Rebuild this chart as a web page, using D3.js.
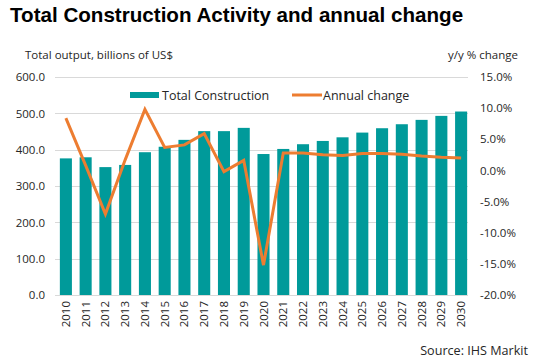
<!DOCTYPE html>
<html><head><meta charset="utf-8">
<script src="https://cdn.jsdelivr.net/npm/d3@7"></script>
<style>body{margin:0;background:#fff}svg{display:block}</style>
</head><body>
<svg id="c" width="538" height="364"></svg>
<script>
const years = ["2010","2011","2012","2013","2014","2015","2016","2017","2018","2019","2020","2021","2022","2023","2024","2025","2026","2027","2028","2029","2030"];
const totalConstruction = [376,379,352,358,393,408,427,451,451,460,388,402,415,424,434,447,459,470,482,493,505];
const annualChange = [8.4,0.8,-7.0,1.7,9.8,3.7,4.1,5.9,-0.2,1.6,-15.2,2.8,2.8,2.5,2.4,2.7,2.7,2.6,2.3,2.1,2.0];
const leftTicks = [0,100,200,300,400,500,600];
const rightTicks = [-20,-15,-10,-5,0,5,10,15];

const svg = d3.select("#c");
const font = "'Open Sans', 'Noto Sans', sans-serif";
const L = 56, R = 471, T = 77, B = 295;

const x = d3.scaleBand().domain(years).range([L, R]).paddingInner(0.39).paddingOuter(0.195);
const y = d3.scaleLinear().domain([0, 600]).range([B, T]);
const y2 = d3.scaleLinear().domain([-20, 15]).range([B, T]);

svg.append("text").attr("x", 10).attr("y", 22).text("Total Construction Activity and annual change")
  .attr("font-family", "'Liberation Sans', Arial, sans-serif").attr("font-weight", "bold").attr("font-size", 20.6).attr("fill", "#000");

// gridlines
svg.append("g").selectAll("line").data(leftTicks).join("line")
  .attr("x1", L - 1).attr("x2", R - 3).attr("y1", d => Math.round(y(d)) + 0.5).attr("y2", d => Math.round(y(d)) + 0.5)
  .attr("stroke", "#d9d9d9").attr("stroke-width", 1);

// left axis
const gl = svg.append("g").attr("transform", `translate(${L - 11},0)`)
  .call(d3.axisLeft(y).tickValues(leftTicks).tickFormat(d3.format(".1f")).tickSize(0).tickPadding(0));
gl.select(".domain").remove();
gl.selectAll("text").attr("font-family", font).attr("font-size", 11.5).attr("fill", "#262626");

// right axis
const gr = svg.append("g").attr("transform", `translate(${R + 9},0)`)
  .call(d3.axisRight(y2).tickValues(rightTicks).tickFormat(d => d.toFixed(1) + "%").tickSize(0).tickPadding(0));
gr.select(".domain").remove();
gr.selectAll("text").attr("font-family", font).attr("font-size", 11.5).attr("fill", "#262626");

// x axis labels
const gx = svg.append("g").attr("transform", `translate(0,${B + 6})`)
  .call(d3.axisBottom(x).tickSize(0).tickPadding(0));
gx.select(".domain").remove();
gx.selectAll("text").attr("font-family", font).attr("font-size", 11.5).attr("fill", "#262626")
  .attr("transform", "rotate(-90)").attr("text-anchor", "end").attr("dy", "0.35em").attr("x", 0).attr("y", 0)
  .each(function(d){ d3.select(this.parentNode).attr("transform", `translate(${x(d) + x.bandwidth()/2},0)`); });

// bars
svg.append("g").selectAll("rect").data(years).join("rect")
  .attr("x", d => x(d)).attr("width", x.bandwidth())
  .attr("y", (d, i) => y(totalConstruction[i])).attr("height", (d, i) => B - y(totalConstruction[i]))
  .attr("fill", "#009a9a");

// line
const line = d3.line().x((d, i) => x(years[i]) + x.bandwidth()/2).y(d => y2(d));
svg.append("path").datum(annualChange).attr("d", line).attr("fill", "none")
  .attr("stroke", "#ed7d31").attr("stroke-width", 3).attr("stroke-linejoin", "miter");

// axis titles
svg.append("text").attr("x", 25).attr("y", 59).text("Total output, billions of US$")
  .attr("font-family", font).attr("font-size", 11.5).attr("fill", "#262626");
svg.append("text").attr("x", 518).attr("y", 59).attr("text-anchor", "end").text("y/y % change")
  .attr("font-family", font).attr("font-size", 11.5).attr("fill", "#262626");

// legend
const lg = svg.append("g");
lg.append("rect").attr("x", 130).attr("y", 92).attr("width", 29).attr("height", 6).attr("fill", "#009a9a");
lg.append("text").attr("x", 162).attr("y", 99.5).text("Total Construction")
  .attr("font-family", font).attr("font-size", 12.5).attr("fill", "#262626");
lg.append("line").attr("x1", 292).attr("x2", 322).attr("y1", 95).attr("y2", 95).attr("stroke", "#ed7d31").attr("stroke-width", 3);
lg.append("text").attr("x", 323).attr("y", 99.5).text("Annual change")
  .attr("font-family", font).attr("font-size", 12.5).attr("fill", "#262626");

svg.append("text").attr("x", 528).attr("y", 355).attr("text-anchor", "end").text("Source: IHS Markit")
  .attr("font-family", font).attr("font-size", 12.6).attr("fill", "#262626");
</script>
</body></html>
